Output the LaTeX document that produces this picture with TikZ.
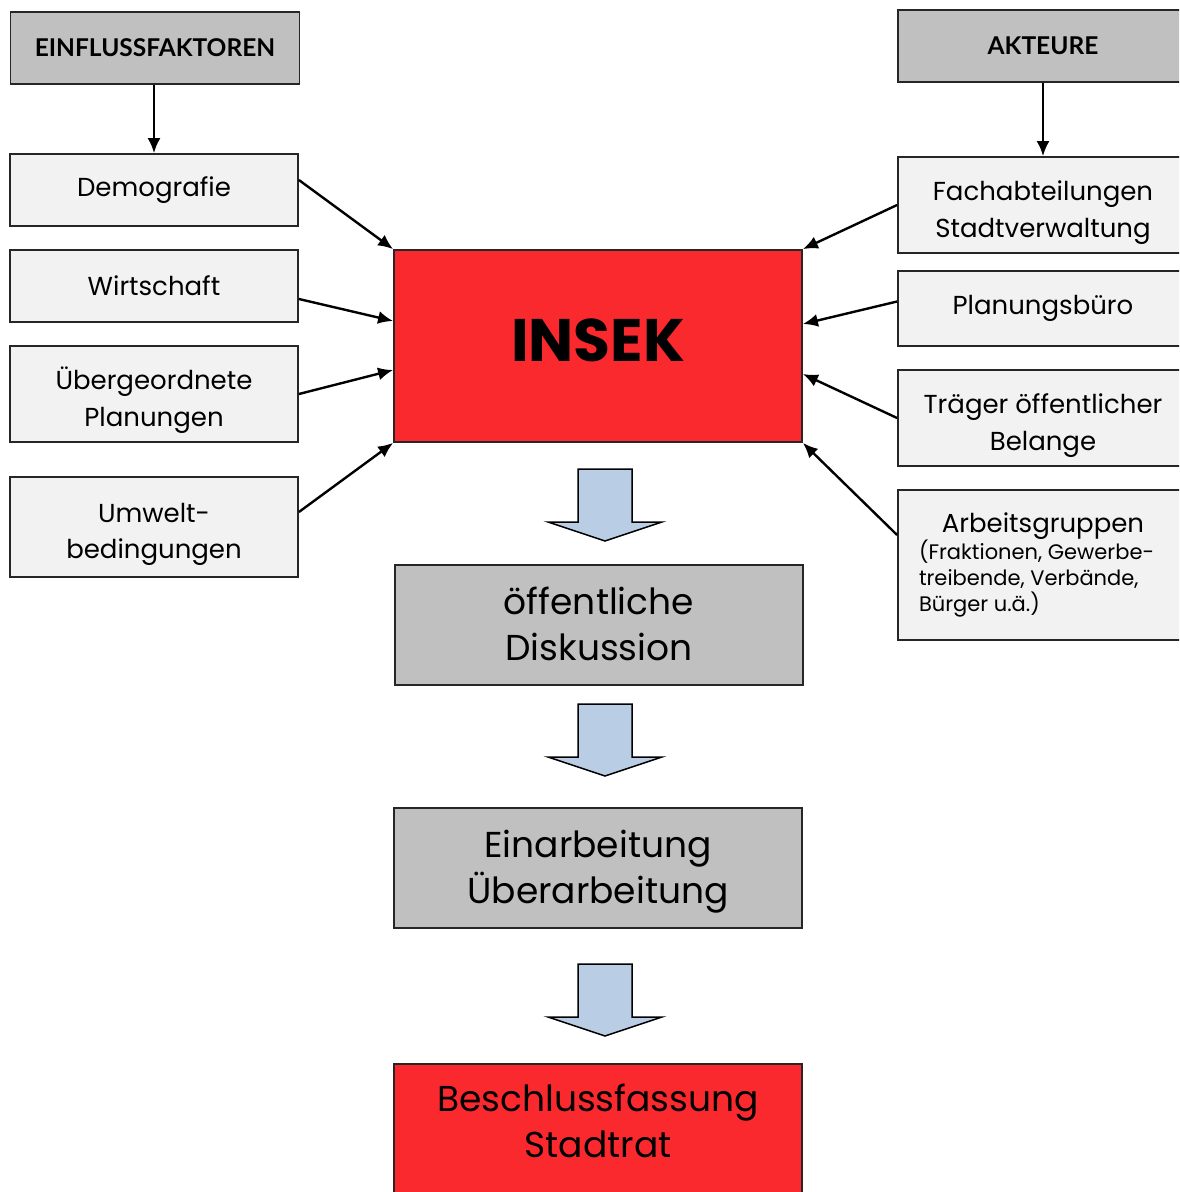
\documentclass[tikz,border=0pt]{standalone}
\usepackage{fontspec}
\setmainfont{Poppins}
\newfontfamily\headfont{Lato}
\usetikzlibrary{arrows.meta}
\definecolor{kopfgrau}{RGB}{192,192,192}
\definecolor{hellgrau}{RGB}{242,242,242}
\definecolor{insekrot}{RGB}{250,41,46}
\definecolor{pfeilblau}{RGB}{185,205,229}
% Zeilenstuetzen fuer gleichmaessige Textlage
\newcommand{\zka}{\rule[-7pt]{0pt}{42pt}}
\newcommand{\zkb}{\rule[-7pt]{0pt}{36pt}}
\newcommand{\zga}{\rule[-14pt]{0pt}{52pt}}
\newcommand{\zgb}{\rule[-14pt]{0pt}{46pt}}

\begin{document}
\begin{tikzpicture}[->,>={Latex[length=15pt,width=13pt]},x=1pt,y=-1pt,line width=2.4pt,
  every node/.style={draw=black!85,line width=1.8pt,inner sep=0pt,align=center,
    font=\fontsize{26}{36}\selectfont},
  kopf/.style={fill=kopfgrau,minimum width=289pt,minimum height=72pt,
    font=\headfont\bfseries\fontsize{24.5}{26}\selectfont},
  faktor/.style={fill=hellgrau,minimum width=288pt},
  akteur/.style={fill=hellgrau,minimum width=290pt},
  schritt/.style={fill=kopfgrau,minimum width=408pt,minimum height=120pt,
    font=\fontsize{36}{46}\selectfont}]
  \clip (0,0) rectangle (1179,1192);
  % links: Einflussfaktoren
  \node (einfl) [kopf] at (155,48) {EINFLUSSFAKTOREN};
  \node (demo) [faktor,minimum height=72pt] at (154,190) {Demografie};
  \node (wirt) [faktor,minimum height=72pt] at (154,286) {Wirtschaft};
  \node (uebp) [faktor,minimum height=96pt] at (154,394) {\zka Übergeordnete\\\zkb Planungen};
  \node (umwelt) [faktor,minimum height=100pt] at (154,527) {\zka Umwelt-\\\zkb bedingungen};
  % rechts: Akteure
  \node (akteure) [kopf,minimum width=290pt] at (1043,46) {AKTEURE};
  \node (fach) [akteur,minimum height=96pt] at (1043,205) {\zka Fachabteilungen\\\zkb Stadtverwaltung};
  \node (plan) [akteur,minimum height=75pt] at (1043,308.5) {Planungsbüro};
  \node (traeger) [akteur,minimum height=96pt] at (1043,418) {\zka Träger öffentlicher\\\zkb Belange};
  \node (arbeit) [akteur,minimum height=150pt] at (1043,565) {%
    \parbox{248pt}{\centering Arbeitsgruppen\par
      \raggedright\fontsize{21}{26}\selectfont (Fraktionen, Gewerbe-\\treibende, Verbände,\\Bürger u.ä.)}};
  % Mitte
  \node (insek) [fill=insekrot,minimum width=408pt,minimum height=192pt,
    font=\bfseries\fontsize{60}{60}\selectfont] at (598,346) {\rule[-20pt]{0pt}{70pt}INSEK};
  \node (disk) [schritt] at (599,625) {\zga öffentliche\\\zgb Diskussion};
  \node (einarb) [schritt] at (598,868) {\zga Einarbeitung\\\zgb Überarbeitung};
  \node (beschl) [schritt,fill=insekrot,minimum height=140pt] at (598,1134)
    {\rule[-16pt]{0pt}{46pt}Beschlussfassung\\\rule[-30pt]{0pt}{46pt}Stadtrat};

  \path (einfl.south -| demo.north) edge (demo.north)
        (akteure) edge (fach);
  \draw ([yshift=10pt]demo.east) -- (insek.north west);
  \draw ([yshift=-13pt]wirt.east) -- ([yshift=25pt]insek.west);
  \draw (uebp.east) -- ([yshift=-24pt]insek.west);
  \draw ([yshift=15pt]umwelt.east) -- (insek.south west);
  \draw (fach.west) -- (insek.north east);
  \draw ([yshift=7pt]plan.west) -- ([yshift=22pt]insek.east);
  \draw (traeger.west) -- ([yshift=-28pt]insek.east);
  \draw ([yshift=30pt]arbeit.west) -- (insek.south east);

  % Blockpfeile
  \foreach \y in {469,704,964}
    \draw[-,fill=pfeilblau,line width=1.5pt] (578,\y) -- (632,\y) -- (632,\y+53)
      -- (662,\y+53) -- (605,\y+72) -- (548,\y+53) -- (578,\y+53) -- cycle;
\end{tikzpicture}
\end{document}
